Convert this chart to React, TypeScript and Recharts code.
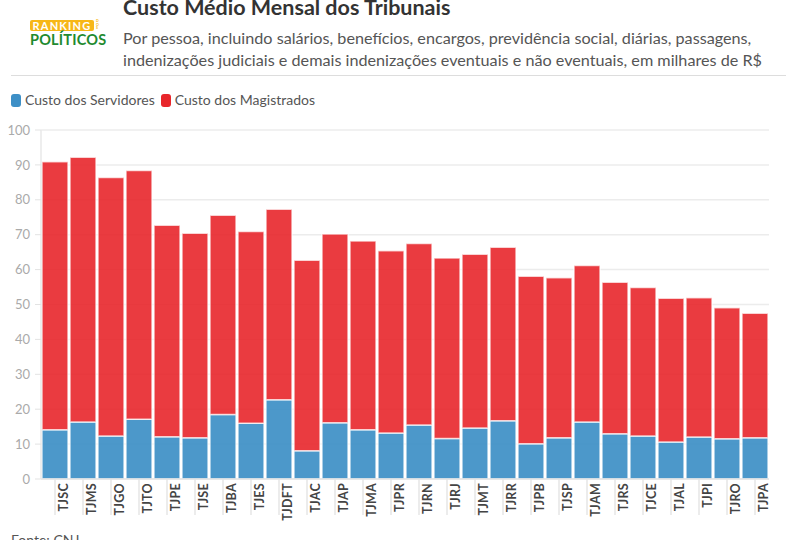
import React from 'react'
import { BarChart, Bar, XAxis, YAxis, CartesianGrid } from 'recharts'

const tribunais = [
  'TJSC', 'TJMS', 'TJGO', 'TJTO', 'TJPE', 'TJSE', 'TJBA', 'TJES', 'TJDFT', 'TJAC', 'TJAP', 'TJMA', 'TJPR',
  'TJRN', 'TJRJ', 'TJMT', 'TJRR', 'TJPB', 'TJSP', 'TJAM', 'TJRS', 'TJCE', 'TJAL', 'TJPI', 'TJRO', 'TJPA',
]
const custoServidores = [
  14.1, 16.3, 12.3, 17.1, 12.1, 11.8, 18.5, 16.0, 22.7, 8.1, 16.1, 14.1, 13.2,
  15.5, 11.6, 14.6, 16.7, 10.1, 11.8, 16.3, 13.0, 12.3, 10.6, 12.0, 11.5, 11.8,
]
const custoTotal = [
  90.9, 92.2, 86.4, 88.4, 72.7, 70.4, 75.6, 70.9, 77.3, 62.7, 70.2, 68.2, 65.4,
  67.5, 63.3, 64.4, 66.4, 58.1, 57.7, 61.2, 56.4, 54.9, 51.8, 51.9, 49.1, 47.5,
]
const yTicks = [0, 10, 20, 30, 40, 50, 60, 70, 80, 90, 100]

const rows = tribunais.map((t, i) => ({
  tribunal: t,
  servidores: custoServidores[i],
  magistrados: +(custoTotal[i] - custoServidores[i]).toFixed(1),
}))

const FONT = 'Lato, "Open Sans", sans-serif'

// eslint-disable-next-line @typescript-eslint/no-explicit-any
function TickTribunal({ x, y, payload }: any) {
  return (
    <g>
      <line x1={x} y1={y} x2={x} y2={y + 36} stroke="#e6e6e6" strokeWidth={1.5} />
      <text
        transform={`translate(${x + 13},${y + 4}) rotate(-90)`}
        textAnchor="end"
        fontSize={12.5}
        fontWeight={700}
        fill="#444"
        fontFamily={FONT}
        letterSpacing={0.3}
      >
        {payload.value}
      </text>
    </g>
  )
}

function Swatch({ color }: { color: string }) {
  return (
    <span style={{
      display: 'inline-block', width: 10, height: 13, borderRadius: 3,
      background: color, marginRight: 4, verticalAlign: -2,
    }} />
  )
}

export default function App() {
  return (
    <div style={{
      position: 'absolute', left: 0, top: 0, width: 796, height: 540,
      overflow: 'hidden', background: '#fff', fontFamily: FONT,
    }}>
      {/* logo */}
      <div style={{
        position: 'absolute', left: 30, top: 20, width: 64, height: 11, background: '#f7b718',
        borderRadius: 2, color: '#fff', fontWeight: 700, fontSize: 11, lineHeight: '11px',
        textAlign: 'center', letterSpacing: 1.2,
      }}>RANKING</div>
      <div style={{
        position: 'absolute', left: 96, top: 20, fontSize: 3.5, lineHeight: '3.7px', color: '#f7b718',
        fontWeight: 700, width: 6,
      }}>D<br />O<br />S</div>
      <div style={{
        position: 'absolute', left: 30, top: 32, width: 74, color: '#1f8a30', fontWeight: 700,
        fontSize: 14.5, lineHeight: '16px', letterSpacing: 0.2, whiteSpace: 'nowrap',
      }}>POLÍTICOS</div>

      <div style={{
        position: 'absolute', left: 123, top: -6, fontSize: 21.5, fontWeight: 700, color: '#333',
        whiteSpace: 'nowrap',
      }}>
        Custo Médio Mensal dos Tribunais
      </div>
      <div style={{
        position: 'absolute', left: 123, top: 27, fontSize: 16.2, lineHeight: '22px', color: '#555',
        whiteSpace: 'nowrap',
      }}>
        Por pessoa, incluindo salários, benefícios, encargos, previdência social, diárias, passagens,<br />
        indenizações judiciais e demais indenizações eventuais e não eventuais, em milhares de R$
      </div>
      <div style={{ position: 'absolute', left: 11, top: 75, width: 775, height: 1, background: '#dddddd' }} />

      {/* legenda */}
      <div style={{ position: 'absolute', left: 11, top: 91, fontSize: 14, color: '#555', whiteSpace: 'nowrap' }}>
        <Swatch color="#3d8fc6" />Custo dos Servidores
        <span style={{ marginLeft: 6 }} />
        <Swatch color="#e8262b" />Custo dos Magistrados
      </div>

      <div style={{ position: 'absolute', left: 0, top: 120 }}>
        <BarChart
          width={796}
          height={410}
          data={rows}
          margin={{ top: 10, right: 27, left: 0, bottom: 0 }}
          barCategoryGap={1}
        >
          <CartesianGrid vertical={false} stroke="#ececec" strokeWidth={1.5} />
          <XAxis
            dataKey="tribunal"
            interval={0}
            height={51}
            tickLine={false}
            tickSize={0}
            tickMargin={0}
            axisLine={{ stroke: '#e3e3e3', strokeWidth: 1.5 }}
            tick={<TickTribunal />}
          />
          <YAxis
            domain={[0, 100]}
            ticks={yTicks}
            width={41}
            tickSize={6}
            tickMargin={5}
            tickLine={{ stroke: '#e3e3e3' }}
            axisLine={{ stroke: '#e8e8e8', strokeWidth: 1.5 }}
            tick={{ fontSize: 13, fill: '#aaa', fontFamily: FONT }}
          />
          <Bar
            dataKey="servidores"
            stackId="custo"
            fill="#3d8fc6"
            fillOpacity={0.92}
            stroke="#fff"
            strokeOpacity={0.7}
            strokeWidth={1.5}
            isAnimationActive={false}
          />
          <Bar
            dataKey="magistrados"
            stackId="custo"
            fill="#e8262b"
            fillOpacity={0.9}
            stroke="#fff"
            strokeOpacity={0.7}
            strokeWidth={1.5}
            isAnimationActive={false}
          />
        </BarChart>
      </div>

      <div style={{ position: 'absolute', left: 11, top: 531, fontSize: 14, color: '#555' }}>
        Fonte: CNJ
      </div>
    </div>
  )
}
